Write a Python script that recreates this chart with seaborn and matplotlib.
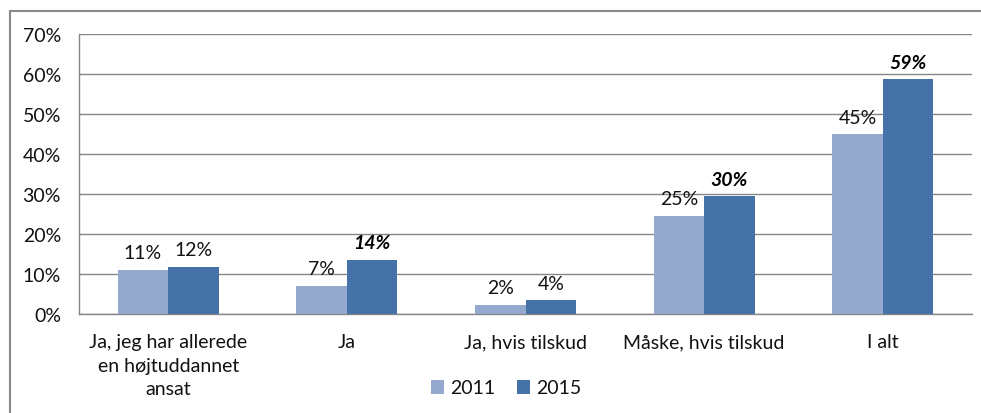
import matplotlib
matplotlib.use("Agg")
import matplotlib.pyplot as plt
from matplotlib.patches import Rectangle, Patch
import seaborn as sns
import pandas as pd

categories = ["Ja, jeg har allerede\nen højtuddannet\nansat", "Ja", "Ja, hvis tilskud",
              "Måske, hvis tilskud", "I alt"]
years = ["2011", "2015"]
values_2011 = [11.1, 7.1, 2.3, 24.6, 45.0]
values_2015 = [11.8, 13.6, 3.5, 29.5, 58.7]
labels_2011 = ["11%", "7%", "2%", "25%", "45%"]
labels_2015 = ["12%", "14%", "4%", "30%", "59%"]
emphasis_2015 = [False, True, False, True, True]
yticks = [0, 10, 20, 30, 40, 50, 60, 70]
colors = ["#95A9CF", "#4572A7"]

df = pd.DataFrame({
    "cat": categories * 2,
    "year": [years[0]] * 5 + [years[1]] * 5,
    "val": values_2011 + values_2015,
})

sns.set_theme(style="white")
plt.rcParams["font.family"] = ["Lato", "DejaVu Sans"]
FS = 14
TC = "#111111"

W, H = 981, 414
fig = plt.figure(figsize=(W / 100, H / 100), dpi=100)
ax = fig.add_axes([79 / W, 1 - 315 / H, (972 - 79) / W, (315 - 35) / H])

sns.barplot(data=df, x="cat", y="val", hue="year", palette=colors, width=0.566,
            gap=0, saturation=1, ax=ax, legend=False, zorder=3, linewidth=0,
            edgecolor="none")

ax.set_ylim(0, 70)
ax.set_xlim(-0.5, 4.5)
ax.set_yticks(yticks)
ax.set_yticklabels([f"{v}%" for v in yticks], fontsize=FS, color=TC)
ax.tick_params(axis="y", length=0, pad=13)
ax.tick_params(axis="x", length=0, pad=14, labelsize=FS, labelcolor=TC)
for lab in ax.get_xticklabels():
    lab.set_linespacing(1.45)
ax.set_xlabel("")
ax.set_ylabel("")
ax.grid(axis="y", color="#868686", linewidth=1.0, zorder=0)
ax.set_axisbelow(True)
for s in ["top", "right"]:
    ax.spines[s].set_visible(False)
for s in ["left", "bottom"]:
    ax.spines[s].set_color("#868686")
    ax.spines[s].set_linewidth(1.0)

conts = ax.containers
t1 = ax.bar_label(conts[0], labels=labels_2011, padding=6, fontsize=FS, color=TC)
t2 = ax.bar_label(conts[1], labels=labels_2015, padding=6, fontsize=FS, color=TC)
for t, e in zip(t2, emphasis_2015):
    if e:
        t.set_fontweight("bold")
        t.set_fontstyle("italic")
        t.set_color("black")

handles = [Patch(facecolor=c, edgecolor="none") for c in colors]
fig.legend(handles, years, loc="center", bbox_to_anchor=(506 / W, 1 - 389 / H), ncol=2,
           frameon=False, fontsize=FS, handlelength=0.7, handleheight=0.7,
           handletextpad=0.3, columnspacing=1.1, labelcolor=TC)

fig.add_artist(Rectangle((9.5 / W, -0.05), 1.2, 1.05 - 12 / H, transform=fig.transFigure,
                         fill=False, edgecolor="#898989", linewidth=1.5))

fig.savefig("out.png", dpi=100, facecolor="white")
